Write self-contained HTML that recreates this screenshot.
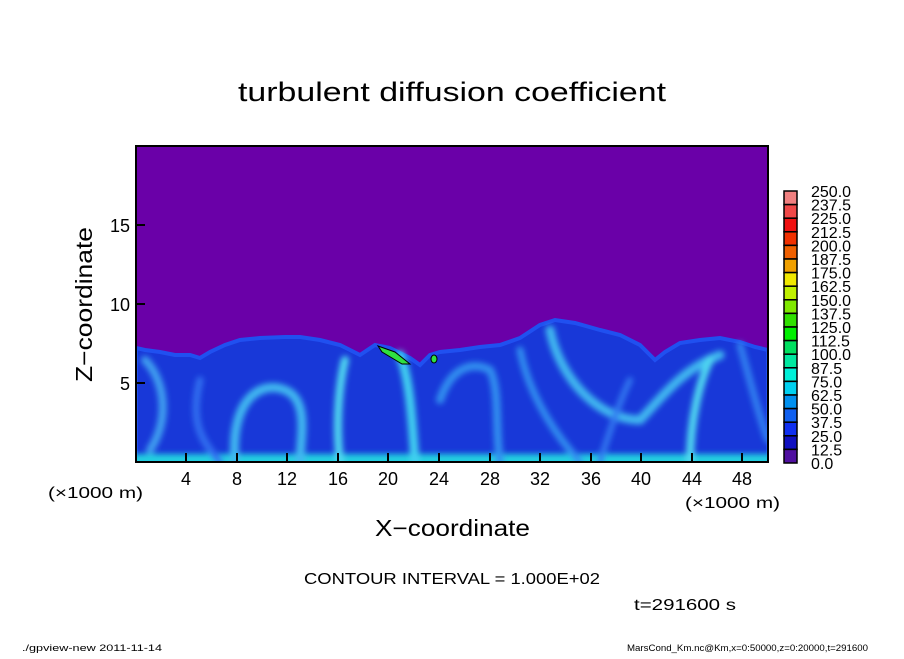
<!DOCTYPE html>
<html><head><meta charset="utf-8"><style>
body{margin:0;background:#fff;}
svg text{font-family:"Liberation Sans",sans-serif;fill:#000}
</style></head><body>
<svg width="904" height="654" viewBox="0 0 904 654" xmlns="http://www.w3.org/2000/svg">
<defs>
<filter id="b" x="-10%" y="-10%" width="120%" height="120%"><feGaussianBlur stdDeviation="3"/></filter>
<clipPath id="c"><rect x="136" y="146" width="632" height="316"/></clipPath>
</defs>
<text x="238" y="101" font-size="27" textLength="428" lengthAdjust="spacingAndGlyphs">turbulent diffusion coefficient</text>
<g clip-path="url(#c)">
<rect x="136" y="146" width="632" height="316" fill="#6a00a8"/>
<path d="M136,348 L145,350 160,352 175,355 190,355 200,358 210,352 225,345 240,340 260,338 285,337 300,337 320,340 340,345 360,355 375,345 390,348 410,358 420,365 430,355 440,352 460,350 480,347 500,345 520,338 540,325 555,320 575,323 600,330 620,335 640,345 655,360 665,352 680,343 700,340 720,338 740,342 755,347 768,350 L768,462 L136,462Z" fill="#1838d8" stroke="#2050f0" stroke-width="4"/>
<g filter="url(#b)" fill="none" stroke-linecap="round">
<path d="M136,460 L768,460" stroke="#20d0e0" stroke-width="12"/>
<path d="M145,360 C165,380 170,420 150,450" stroke="#40a0f0" stroke-width="8"/>
<path d="M235,462 C230,400 260,380 285,390 C310,400 300,440 300,462" stroke="#40b8f0" stroke-width="9"/>
<path d="M340,462 C335,420 340,380 345,360" stroke="#50d8f0" stroke-width="8"/>
<path d="M415,462 C412,420 410,380 400,355" stroke="#40d0f0" stroke-width="9"/>
<path d="M440,400 C450,370 470,360 490,370 C500,390 495,430 500,462" stroke="#3090f0" stroke-width="8"/>
<path d="M550,330 C560,380 600,420 640,420 C660,400 680,370 720,355" stroke="#40b8f0" stroke-width="9"/>
<path d="M690,462 C690,420 700,380 710,360" stroke="#50d8f0" stroke-width="8"/>
<path d="M520,350 C530,400 560,440 580,462" stroke="#3090f0" stroke-width="7"/>
<path d="M200,380 C190,420 200,440 220,462" stroke="#3070f0" stroke-width="7"/>
<path d="M740,345 C750,380 760,420 768,440" stroke="#3080f0" stroke-width="7"/>
<path d="M600,462 C610,430 620,400 630,380" stroke="#3078f0" stroke-width="6"/>
</g>
<path d="M378,346 L395,352 405,360 410,364 402,364 392,358 382,352Z" fill="#30e040" stroke="#000" stroke-width="1"/>
<ellipse cx="434" cy="359" rx="3" ry="4" fill="#30e040" stroke="#000" stroke-width="1"/>
</g>
<rect x="136" y="146" width="632" height="316" fill="none" stroke="#000" stroke-width="2"/>
<g stroke="#000" stroke-width="2">
<line x1="186" y1="462" x2="186" y2="453"/><line x1="237" y1="462" x2="237" y2="453"/><line x1="287" y1="462" x2="287" y2="453"/><line x1="338" y1="462" x2="338" y2="453"/><line x1="388" y1="462" x2="388" y2="453"/><line x1="439" y1="462" x2="439" y2="453"/><line x1="490" y1="462" x2="490" y2="453"/><line x1="540" y1="462" x2="540" y2="453"/><line x1="591" y1="462" x2="591" y2="453"/><line x1="641" y1="462" x2="641" y2="453"/><line x1="692" y1="462" x2="692" y2="453"/><line x1="742" y1="462" x2="742" y2="453"/>
<line x1="136" y1="225" x2="145" y2="225"/><line x1="136" y1="304" x2="145" y2="304"/><line x1="136" y1="383" x2="145" y2="383"/>
</g>
<g font-size="18" text-anchor="middle">
<text x="186" y="485">4</text><text x="237" y="485">8</text><text x="287" y="485">12</text><text x="338" y="485">16</text><text x="388" y="485">20</text><text x="439" y="485">24</text><text x="490" y="485">28</text><text x="540" y="485">32</text><text x="591" y="485">36</text><text x="641" y="485">40</text><text x="692" y="485">44</text><text x="742" y="485">48</text>
</g>
<g font-size="18" text-anchor="end"><text x="130" y="232">15</text><text x="130" y="311">10</text><text x="130" y="390">5</text></g>
<text x="48" y="498" font-size="16" textLength="95" lengthAdjust="spacingAndGlyphs">(×1000 m)</text>
<text x="685" y="508" font-size="16" textLength="95" lengthAdjust="spacingAndGlyphs">(×1000 m)</text>
<text x="375" y="536" font-size="23" textLength="155" lengthAdjust="spacingAndGlyphs">X−coordinate</text>
<text x="0" y="0" font-size="23" textLength="155" lengthAdjust="spacingAndGlyphs" transform="translate(92 382) rotate(-90)">Z−coordinate</text>
<text x="304" y="584" font-size="16" textLength="296" lengthAdjust="spacingAndGlyphs">CONTOUR INTERVAL = 1.000E+02</text>
<text x="634" y="610" font-size="16" textLength="102" lengthAdjust="spacingAndGlyphs">t=291600 s</text>
<text x="22" y="651" font-size="9" textLength="140" lengthAdjust="spacingAndGlyphs">./gpview-new  2011-11-14</text>
<text x="627" y="651" font-size="9" textLength="241" lengthAdjust="spacingAndGlyphs">MarsCond_Km.nc@Km,x=0:50000,z=0:20000,t=291600</text>
<g stroke="#000" stroke-width="1.5">
<rect x="784" y="191" width="13" height="13.6" fill="#f08080"/>
<rect x="784" y="204.6" width="13" height="13.6" fill="#f04848"/>
<rect x="784" y="218.2" width="13" height="13.6" fill="#f01010"/>
<rect x="784" y="231.8" width="13" height="13.6" fill="#f03000"/>
<rect x="784" y="245.4" width="13" height="13.6" fill="#f06000"/>
<rect x="784" y="259" width="13" height="13.6" fill="#f0a000"/>
<rect x="784" y="272.6" width="13" height="13.6" fill="#f0e800"/>
<rect x="784" y="286.2" width="13" height="13.6" fill="#c0f000"/>
<rect x="784" y="299.8" width="13" height="13.6" fill="#80e800"/>
<rect x="784" y="313.4" width="13" height="13.6" fill="#30e000"/>
<rect x="784" y="327" width="13" height="13.6" fill="#00f000"/>
<rect x="784" y="340.6" width="13" height="13.6" fill="#00e060"/>
<rect x="784" y="354.2" width="13" height="13.6" fill="#00e8a0"/>
<rect x="784" y="367.8" width="13" height="13.6" fill="#00f0d8"/>
<rect x="784" y="381.4" width="13" height="13.6" fill="#00d0f0"/>
<rect x="784" y="395" width="13" height="13.6" fill="#0090f0"/>
<rect x="784" y="408.6" width="13" height="13.6" fill="#1060f0"/>
<rect x="784" y="422.2" width="13" height="13.6" fill="#1030f0"/>
<rect x="784" y="435.8" width="13" height="13.6" fill="#1010c0"/>
<rect x="784" y="449.4" width="13" height="13.6" fill="#5010a0"/>
</g>
<g font-size="16">
<text x="811" y="197">250.0</text><text x="811" y="210.6">237.5</text><text x="811" y="224.2">225.0</text><text x="811" y="237.8">212.5</text><text x="811" y="251.4">200.0</text><text x="811" y="265">187.5</text><text x="811" y="278.6">175.0</text><text x="811" y="292.2">162.5</text><text x="811" y="305.8">150.0</text><text x="811" y="319.4">137.5</text><text x="811" y="333">125.0</text><text x="811" y="346.6">112.5</text><text x="811" y="360.2">100.0</text><text x="811" y="373.8">87.5</text><text x="811" y="387.4">75.0</text><text x="811" y="401">62.5</text><text x="811" y="414.6">50.0</text><text x="811" y="428.2">37.5</text><text x="811" y="441.8">25.0</text><text x="811" y="455.4">12.5</text><text x="811" y="469">0.0</text>
</g>
</svg>
</body></html>
